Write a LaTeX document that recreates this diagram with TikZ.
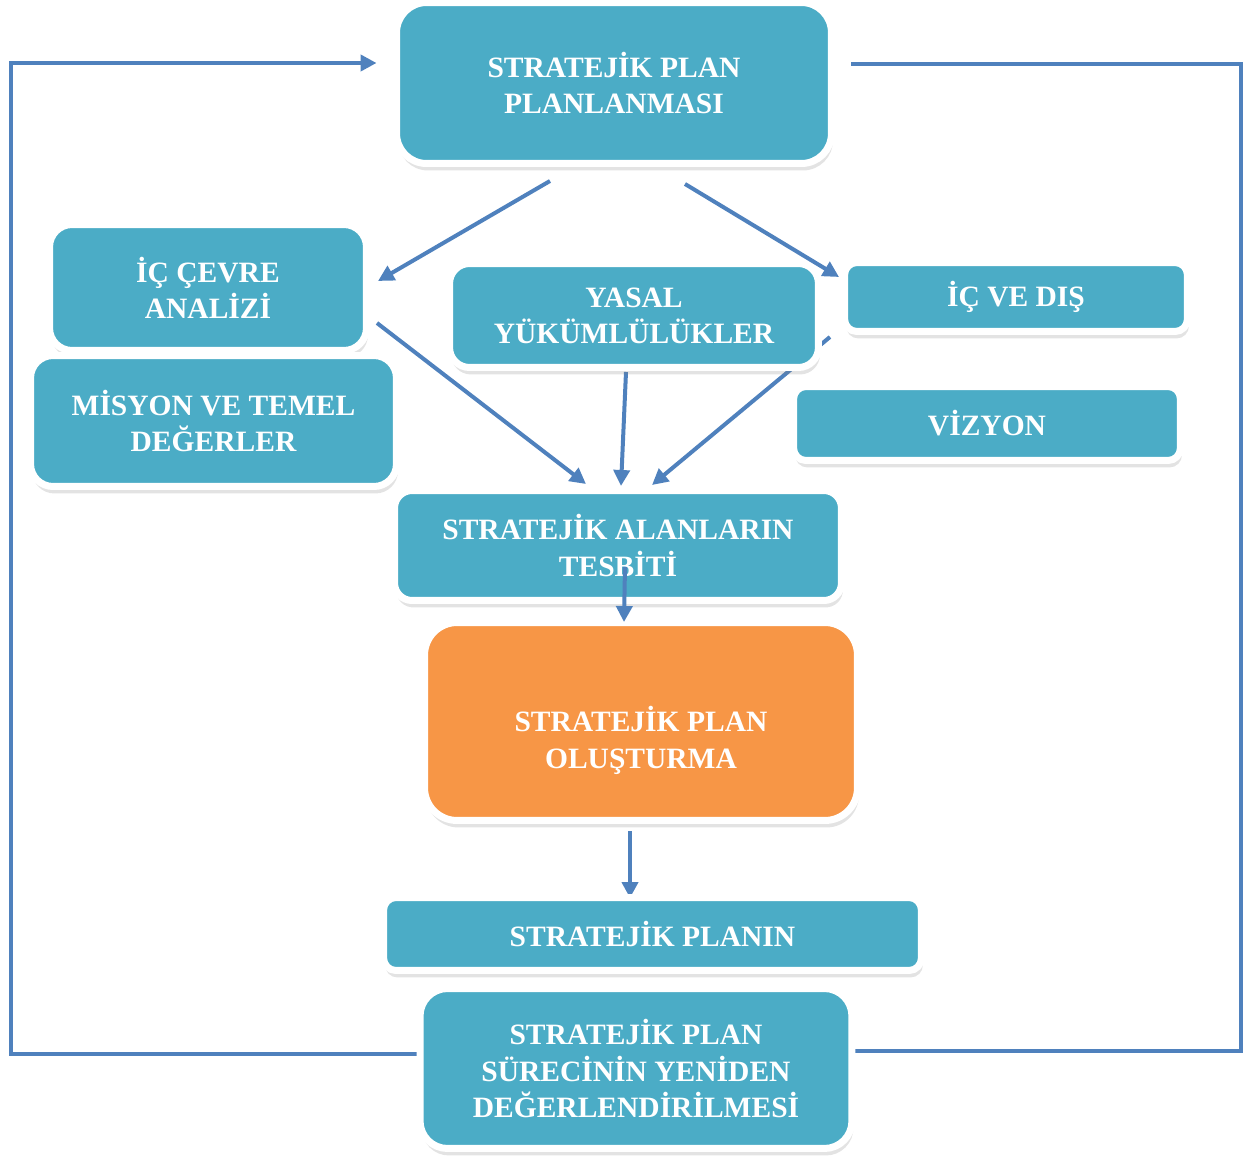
\documentclass[tikz,border=0pt]{standalone}
\usepackage{fontspec}
\setmainfont{Liberation Serif}
\usetikzlibrary{arrows.meta,calc,shadows}
\definecolor{boxblue}{HTML}{4BACC6}
\definecolor{boxorange}{HTML}{F79646}
\definecolor{linkblue}{HTML}{4F81BD}
\pgfdeclarelayer{background}
\pgfsetlayers{background,main}
\tikzset{
  stage/.style={draw=white, line width=0.14cm, fill=boxblue, rounded corners=0.35cm,
    text=white, font=\bfseries\fontsize{16.8}{20.5}\selectfont, align=center,
    inner sep=0pt, outer sep=0pt,
    drop shadow={shadow xshift=0.03cm, shadow yshift=-0.14cm, opacity=0.22}},
  link/.style={draw=linkblue, line width=0.08cm},
  arrow/.style={link, -{Triangle[length=0.32cm,width=0.32cm]}}
}

\begin{document}
\begin{tikzpicture}[x=0.02cm, y=-0.02cm]
\useasboundingbox (0,0) rectangle (1249,1156);

% the stages
\node[stage, minimum width=8.7cm, minimum height=3.22cm, rounded corners=0.6cm] (plan) at (614,83) {STRATEJİK PLAN\\PLANLANMASI};
\node[stage, minimum width=6.34cm, minimum height=2.52cm, rounded corners=0.45cm] (icc) at (208,287.5) {İÇ ÇEVRE\\ANALİZİ};
\node[stage, minimum width=7.32cm, minimum height=2.62cm, rounded corners=0.45cm] (misyon) at (213.5,421) {MİSYON VE TEMEL\\DEĞERLER};
\node[stage, minimum width=7.38cm, minimum height=2.08cm, rounded corners=0.4cm] (yasal) at (634,315.5) {YASAL\\YÜKÜMLÜLÜKLER};
\node[stage, minimum width=6.86cm, minimum height=1.38cm, rounded corners=0.25cm] (icdis) at (1016,297) {İÇ VE DIŞ};
\node[stage, minimum width=7.74cm, minimum height=1.48cm, rounded corners=0.25cm] (vizyon) at (987,423.5) {VİZYON};
\node[stage, minimum width=8.94cm, minimum height=2.2cm, rounded corners=0.35cm] (alan) at (618,545.5) {STRATEJİK ALANLARIN\\TESBİTİ};
\node[stage, fill=boxorange, minimum width=8.66cm, minimum height=3.96cm, rounded corners=0.65cm] (olustur) at (641,721.5) {\strut\\STRATEJİK PLAN\\OLUŞTURMA};
\node[stage, minimum width=10.76cm, minimum height=1.46cm, rounded corners=0.25cm] (planin) at (652.5,934) {STRATEJİK PLANIN};
\node[stage, minimum width=8.64cm, minimum height=3.2cm, rounded corners=0.55cm] (deger) at (636,1068.5) {STRATEJİK PLAN\\SÜRECİNİN YENİDEN\\DEĞERLENDİRİLMESİ};

\coordinate (lefttop) at (11,63);
\coordinate (righttop) at (1241,64);

% connectors behind the stages
\begin{pgfonlayer}{background}
\draw[arrow] ($(plan.south)+(-64,17.5)$) -- ($(icc.east)+(11.5,-6.5)$);
\draw[arrow] ($(plan.south)+(71,20.5)$) -- ($(icdis.west)+(-5.5,-20)$);
\draw[arrow] ($(icc.east)+(10.5,35.5)$) -- ($(alan.north)+(-32,-6.5)$);
\draw[arrow] ($(yasal.south)+(-8,4.5)$) -- ($(alan.north)+(3,-4.5)$);
\draw[arrow] ($(yasal.east)+(11.5,21.5)$) -- ($(alan.north)+(34,-5.5)$);
\draw[arrow] ($(olustur.south)+(-11,11)$) -- ($(planin.north)+(-22.5,0.5)$);
% feedback loop
\draw[arrow] ($(deger.west)+(0,-15)$) -| (lefttop) -- ($(plan.west)+(-20,-20)$);
\draw[link] ($(deger.east)+(0,-18)$) -| (righttop) -- ($(plan.east)+(20,-19)$);
\end{pgfonlayer}

\draw[arrow] ($(alan.south)+(7,-33.5)$) -- ($(olustur.north)+(-17,-0.5)$);
\end{tikzpicture}
\end{document}
